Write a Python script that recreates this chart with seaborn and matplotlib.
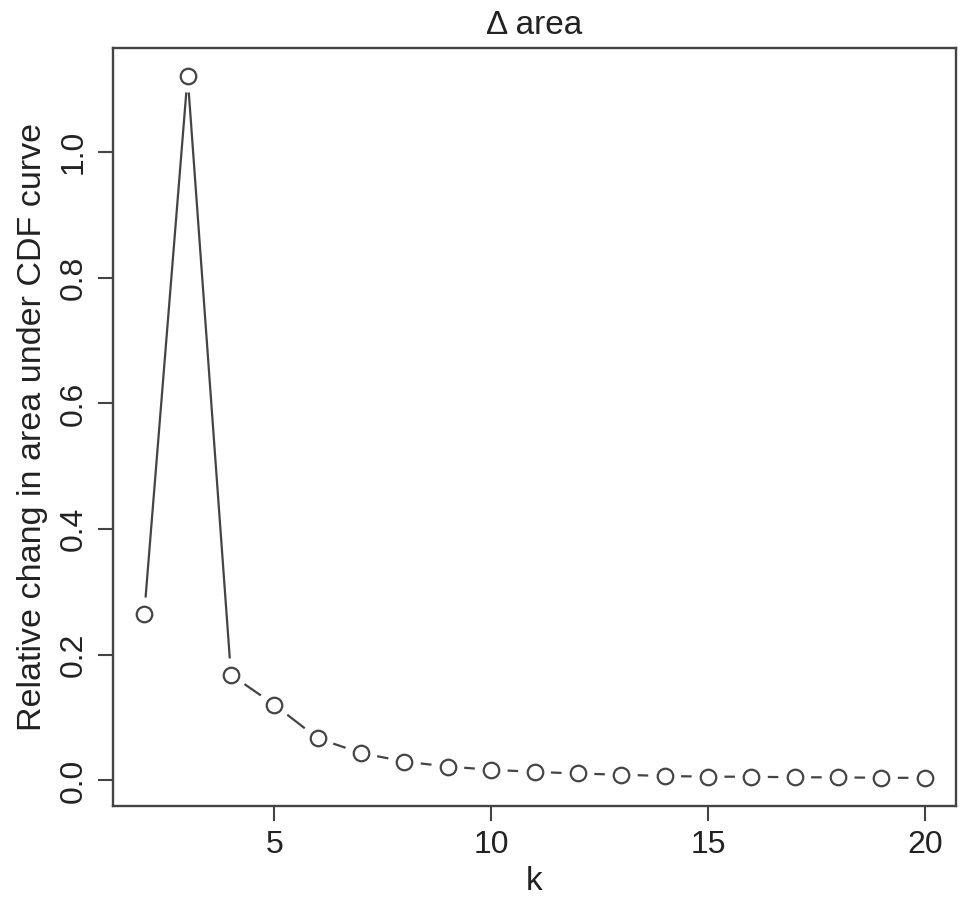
import numpy as np
import pandas as pd
import matplotlib
matplotlib.use("Agg")
import matplotlib.pyplot as plt
import seaborn as sns

# values
k = [2, 3, 4, 5, 6, 7, 8, 9, 10, 11, 12, 13, 14, 15, 16, 17, 18, 19, 20]
delta_area = [0.265, 1.121, 0.168, 0.1205, 0.067, 0.0435, 0.030, 0.022, 0.017,
              0.0135, 0.011, 0.009, 0.007, 0.006, 0.0058, 0.005, 0.0048, 0.0042, 0.004]
x_ticks = [5, 10, 15, 20]
y_ticks = [0.0, 0.2, 0.4, 0.6, 0.8, 1.0]

df = pd.DataFrame({"k": k, "area": delta_area})

sns.set_style("white")
plt.rcParams["font.family"] = ["Liberation Sans", "DejaVu Sans"]

fig = plt.figure(figsize=(9.71, 9.11), dpi=100)
ax = fig.add_axes([0.1164, 0.1153, 0.8682, 0.832])

ink = "#444444"
txt = "#222222"
# R type="b": line broken around each point
sns.lineplot(data=df, x="k", y="area", color=ink, linewidth=1.6, ax=ax, zorder=1)
ax.scatter(df["k"], df["area"], s=560, color="white", edgecolors="none", zorder=2)
ax.scatter(df["k"], df["area"], s=125, facecolors="white", edgecolors=ink,
           linewidths=1.6, zorder=3)

xr = max(k) - min(k)
ax.set_xlim(min(k) - 0.04 * xr, max(k) + 0.04 * xr)
yr = max(delta_area) - min(delta_area)
ax.set_ylim(min(delta_area) - 0.04 * yr, max(delta_area) + 0.04 * yr)

ax.set_xticks(x_ticks)
ax.set_yticks(y_ticks)
ax.set_xticklabels([str(t) for t in x_ticks])
ax.set_yticklabels([f"{t:.1f}" for t in y_ticks], rotation=90, va="center")
ax.tick_params(axis="both", direction="out", length=10.5, width=1.5, color=ink,
               labelsize=23, pad=7, labelcolor=txt)
ax.tick_params(left=True, bottom=True)
for sp in ax.spines.values():
    sp.set_visible(True)
    sp.set_color(ink)
    sp.set_linewidth(1.7)

ax.set_xlabel("k", fontsize=24, color=txt, labelpad=4)
ax.set_ylabel("Relative chang in area under CDF curve", fontsize=24.5,
              color=txt, labelpad=8)
ax.set_title("\u0394 area", fontsize=24, color=txt, pad=10)

fig.savefig("out.png", dpi=100)
